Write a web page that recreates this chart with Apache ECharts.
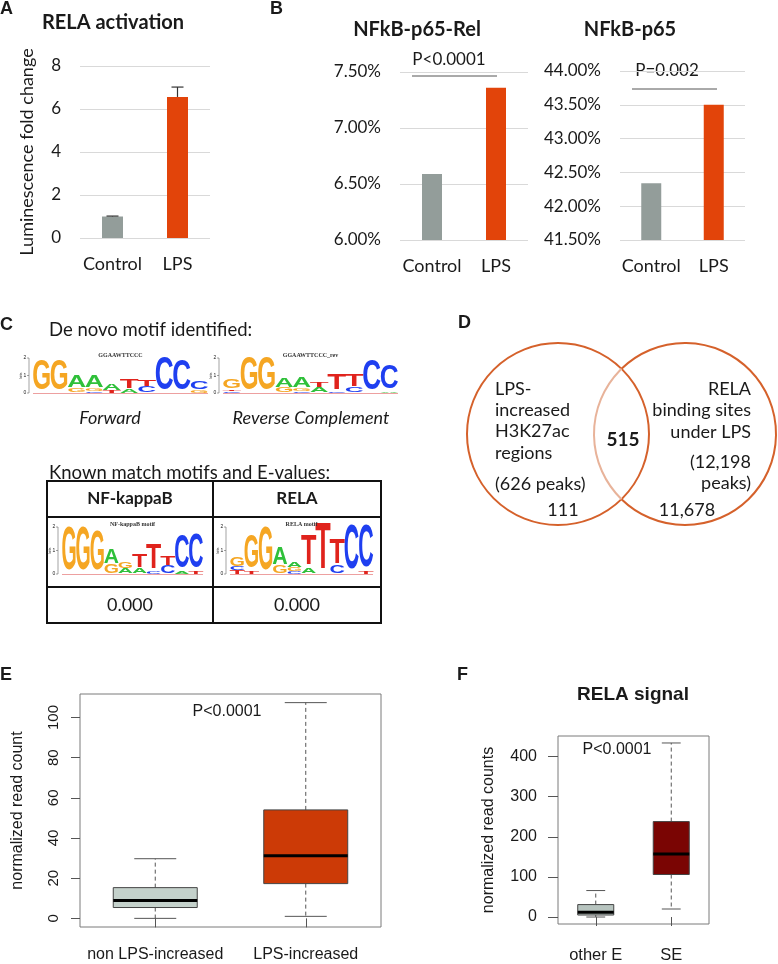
<!DOCTYPE html>
<html><head><meta charset="utf-8">
<script src="https://cdn.jsdelivr.net/npm/echarts@6/dist/echarts.min.js"></script>
<style>html,body{margin:0;padding:0;background:#fff}#c{width:778px;height:964px}</style>
</head><body><div id="c"></div>
<script>
// ---------------- data ----------------
const barCategories = ['Control', 'LPS'];
const relaActivation = [1.0, 6.56];
const relaActivationErrTop = [1.02, 7.02];
const p65RelPercent = [6.59, 7.36];
const p65Percent = [42.34, 43.50];
const boxCategoriesE = ['non LPS-increased', 'LPS-increased'];
const boxStatsE = [[0, 5.4, 8.9, 15.3, 29.7], [1.0, 17.3, 31.2, 54.0, 107.4]];
const yTicksE = [0, 20, 40, 60, 80, 100];
const boxCategoriesF = ['other E', 'SE'];
const boxStatsF = [[0, 5, 12, 31, 66], [20, 106, 157, 238, 434]];
const yTicksF = [0, 100, 200, 300, 400];
const vennCounts = [111, 515, 11678];
const vennTotals = [626, 12198];
const knownMotifs = ['NF-kappaB', 'RELA'];
const eValues = ['0.000', '0.000'];
// motif logos: columns, each a stack (bottom -> top) of [letter, bits]
const logoForward = [[['G',1.77]],[['G',1.77]],[['G',0.25],['A',0.65]],[['C',0.1],['G',0.15],['A',0.65]],[['T',0.15],['A',0.35]],[['A',0.2],['T',0.55]],[['C',0.35],['T',0.4]],[['C',1.95]],[['C',1.77]],[['G',0.15],['C',0.45]]];
const logoReverse = [[['C',0.1],['T',0.1],['G',0.5]],[['G',1.9]],[['G',1.9]],[['G',0.3],['A',0.55]],[['C',0.1],['G',0.15],['A',0.6]],[['A',0.3],['T',0.3]],[['C',0.1],['T',0.9]],[['C',0.3],['T',0.7]],[['C',1.75]],[['A',0.1],['C',1.35]]];
const logoNFkB = [[['G',1.87]],[['G',1.87]],[['G',1.75]],[['G',0.4],['A',0.65]],[['A',0.2],['G',0.3]],[['A',0.25],['T',0.55]],[['C',0.1],['T',1.1]],[['C',0.35],['T',0.4]],[['A',0.1],['C',1.45]],[['T',0.1],['C',1.5]]];
const logoRELA = [[['T',0.15],['C',0.15],['G',0.4]],[['T',0.1],['G',1.45]],[['G',1.9]],[['G',0.35],['A',0.75]],[['C',0.1],['G',0.15],['A',0.25]],[['A',0.25],['T',1.3]],[['T',2.0]],[['C',0.35],['T',1.1]],[['C',1.95]],[['T',0.1],['C',1.85]]];

// ---------------- styles ----------------
const CAL = 'Lato, "Open Sans", sans-serif';
const ARI = '"Liberation Sans", Arial, sans-serif';
const TXT = '#1a1a1a';
const barColors = ['#939d9a', '#e2440a'];
const boxFillsE = ['#c4d1cb', '#cc3a06'];
const boxFillsF = ['#b7c4bf', '#7a0503'];
const letterColor = {A:'#2fc03a', C:'#1f3ff0', G:'#f5a623', T:'#e0231c'};
const letterAdv = {A:0.722, C:0.722, G:0.778, T:0.611};

function T(x, y, s, font, opt) {
  const st = Object.assign({text: s, font: font, fill: TXT, align: 'left', verticalAlign: 'middle'}, opt || {});
  st.textAlign = st.align; st.textVerticalAlign = st.verticalAlign;
  return {type: 'text', x: x, y: y, silent: true, style: st};
}
function L(x1, y1, x2, y2, stroke, w) {
  return {type: 'line', silent: true, shape: {x1, y1, x2, y2}, style: {stroke: stroke, lineWidth: w}};
}
function logo(cols, x0, base, cw, ppb, title) {
  const out = [];
  cols.forEach((col, i) => {
    let cum = 0;
    const cx = x0 + (i + 0.5) * cw;
    col.forEach(([ch, bits]) => {
      const h = bits * ppb;
      out.push({type: 'text', silent: true, x: cx, y: base - cum - h / 2,
        scaleX: cw * 1.08 / (letterAdv[ch] * 100), scaleY: h / 73,
        style: {text: ch, font: 'bold 100px "Liberation Sans"', fill: letterColor[ch],
          align: 'center', verticalAlign: 'middle', textAlign: 'center', textVerticalAlign: 'middle'}});
      cum += h;
    });
  });
  const ax = x0 - 4;
  out.push(L(ax, base - 2 * ppb, ax, base, '#666', 0.6));
  out.push(L(ax - 2, base - 2 * ppb, ax, base - 2 * ppb, '#666', 0.6));
  out.push(L(ax - 2, base - ppb, ax, base - ppb, '#666', 0.6));
  out.push(L(ax - 2, base, ax, base, '#666', 0.6));
  out.push(L(x0, base + 0.5, x0 + cols.length * cw, base + 0.5, '#e06060', 0.6));
  out.push(T(ax - 4, base - 2 * ppb, '2', '5px ' + ARI, {align: 'center'}));
  out.push(T(ax - 4, base - ppb, '1', '5px ' + ARI, {align: 'center'}));
  out.push(T(ax - 4, base, '0', '5px ' + ARI, {align: 'center'}));
  out.push(Object.assign(T(ax - 8, base - ppb, 'bits', '4px ' + ARI, {align: 'center'}), {rotation: Math.PI / 2}));
  if (title) out.push(T(x0 + cols.length * cw / 2, base - 2 * ppb - 3, title, 'bold 6px "Liberation Serif"', {align: 'center', fill: '#333'}));
  return out;
}

const chart = echarts.init(document.getElementById('c'), null, {renderer: 'canvas'});

const yLab = (fmt) => ({fontFamily: CAL, fontSize: 17, color: TXT, margin: 19, formatter: fmt});
const xLab = {fontFamily: CAL, fontSize: 18, color: TXT, margin: 17, interval: 0};
const split = {show: true, lineStyle: {color: '#d9d9d9', width: 1}};
const pct = v => v.toFixed(2) + '%';

function barX(gi) {
  return {type: 'category', gridIndex: gi, data: barCategories, axisLine: {show: false}, axisTick: {show: false}, axisLabel: xLab};
}
function boxX(gi, cats, margin, fs) {
  return {type: 'category', gridIndex: gi, data: cats, axisLine: {show: false},
    axisTick: {show: true, alignWithLabel: true, interval: 0, length: 9, lineStyle: {color: '#555'}},
    axisLabel: {fontFamily: ARI, fontSize: fs, color: TXT, margin: margin, interval: 0}};
}
function boxSeries(gi, stats, fills, boxFrac, capFrac) {
  return {type: 'custom', xAxisIndex: gi, yAxisIndex: gi, data: stats.map((s, i) => [i].concat(s)),
    renderItem: (params, api) => {
      const i = api.value(0);
      const band = api.size([1, 0])[0];
      const x = api.coord([i, 0])[0];
      const y = k => api.coord([i, api.value(k)])[1];
      const ymin = y(1), yq1 = y(2), ymed = y(3), yq3 = y(4), ymax = y(5);
      const bw = band * boxFrac / 2, cw = band * capFrac / 2;
      const ws = {stroke: '#555', lineWidth: 1, lineDash: [4, 3]};
      return {type: 'group', children: [
        {type: 'line', shape: {x1: x, y1: yq3, x2: x, y2: ymax}, style: ws},
        {type: 'line', shape: {x1: x, y1: yq1, x2: x, y2: ymin}, style: ws},
        {type: 'line', shape: {x1: x - cw, y1: ymax, x2: x + cw, y2: ymax}, style: {stroke: '#555', lineWidth: 1}},
        {type: 'line', shape: {x1: x - cw, y1: ymin, x2: x + cw, y2: ymin}, style: {stroke: '#555', lineWidth: 1}},
        {type: 'rect', shape: {x: x - bw, y: yq3, width: 2 * bw, height: yq1 - yq3}, style: {fill: fills[params.dataIndex], stroke: '#444', lineWidth: 1}},
        {type: 'line', shape: {x1: x - bw, y1: ymed, x2: x + bw, y2: ymed}, style: {stroke: '#000', lineWidth: 3}}
      ]};
    }};
}

// ---------------- graphics ----------------
const g = [];
const bold18 = 'bold 18px ' + ARI;
g.push(T(0, 9, 'A', bold18), T(270, 9, 'B', bold18), T(0, 325, 'C', bold18), T(458, 323, 'D', bold18), T(0, 675, 'E', bold18), T(457, 675, 'F', bold18));
g.push(T(113, 23, 'RELA activation', 'bold 20px ' + CAL, {align: 'center'}));
g.push(T(417, 30, 'NFkB-p65-Rel', 'bold 20px ' + CAL, {align: 'center'}));
g.push(T(630, 30, 'NFkB-p65', 'bold 20px ' + CAL, {align: 'center'}));
g.push(T(449, 60, 'P<0.0001', '17px ' + CAL, {align: 'center'}), L(412, 76, 497, 76, '#555', 1));
g.push(T(667, 71, 'P=0.002', '17px ' + CAL, {align: 'center'}), L(632, 89, 717, 89, '#555', 1));
// panel C
g.push(T(49, 330, 'De novo motif identified:', '18.5px ' + CAL));
g.push.apply(g, logo(logoForward, 33, 393, 17.5, 17.5, 'GGAAWTTCCC'));
g.push.apply(g, logo(logoReverse, 223, 393, 17.5, 17.5, 'GGAAWTTCCC_rev'));
g.push(T(110, 418, 'Forward', 'italic 18px ' + CAL, {align: 'center'}));
g.push(T(311, 418, 'Reverse Complement', 'italic 18px ' + CAL, {align: 'center'}));
g.push(T(49, 473, 'Known match motifs and E-values:', '18.5px ' + CAL));
g.push({type: 'rect', silent: true, shape: {x: 47, y: 481, width: 334, height: 142}, style: {fill: 'none', stroke: '#111', lineWidth: 2}});
g.push(L(47, 517, 381, 517, '#111', 2), L(47, 587, 381, 587, '#111', 2), L(213, 481, 213, 623, '#111', 2));
g.push(T(130, 499, knownMotifs[0], 'bold 17px ' + CAL, {align: 'center'}), T(297, 499, knownMotifs[1], 'bold 17px ' + CAL, {align: 'center'}));
g.push(T(130, 605, eValues[0], '18px ' + CAL, {align: 'center'}), T(297, 605, eValues[1], '18px ' + CAL, {align: 'center'}));
g.push.apply(g, logo(logoNFkB, 62, 574, 14.1, 23.5, 'NF-kappaB motif'));
g.push.apply(g, logo(logoRELA, 230, 574, 14.3, 23.5, 'RELA motif'));
// panel D venn
const vc = '#d5612b';
g.push({type: 'circle', silent: true, shape: {cx: 558, cy: 434, r: 91}, style: {fill: 'none', stroke: vc, lineWidth: 2}});
const a0 = Math.PI - Math.acos(63.5 / 91);
g.push({type: 'arc', silent: true, shape: {cx: 685, cy: 434, r: 91, startAngle: 2 * Math.PI - a0, endAngle: 2 * Math.PI + a0, clockwise: true}, style: {fill: 'none', stroke: vc, lineWidth: 2}});
g.push({type: 'arc', silent: true, shape: {cx: 685, cy: 434, r: 91, startAngle: a0, endAngle: 2 * Math.PI - a0, clockwise: true}, style: {fill: 'none', stroke: '#e8b39a', lineWidth: 2}});
const v17 = '18px ' + CAL;
g.push(T(495, 389, 'LPS-', v17), T(495, 410, 'increased', v17), T(495, 431, 'H3K27ac', v17), T(495, 453, 'regions', v17),
  T(495, 484, '(' + vennTotals[0] + ' peaks)', v17), T(563, 510, String(vennCounts[0]), v17, {align: 'center'}));
g.push(T(751, 389, 'RELA', v17, {align: 'right'}), T(751, 410, 'binding sites', v17, {align: 'right'}), T(751, 432, 'under LPS', v17, {align: 'right'}),
  T(751, 462, '(' + vennTotals[1].toLocaleString('en-US'), v17, {align: 'right'}), T(751, 483, 'peaks)', v17, {align: 'right'}),
  T(687, 510, vennCounts[2].toLocaleString('en-US'), v17, {align: 'center'}));
g.push(T(623, 440, String(vennCounts[1]), 'bold 19px ' + CAL, {align: 'center'}));
// E, F annotations
g.push(T(227, 712, 'P<0.0001', '16px ' + ARI, {align: 'center'}));
g.push(T(633, 695, 'RELA signal', 'bold 19px ' + ARI, {align: 'center'}));
g.push(T(617, 750, 'P<0.0001', '16px ' + ARI, {align: 'center'}));

const option = {
  backgroundColor: '#fff',
  animation: false,
  grid: [
    {left: 80, top: 66, width: 130, height: 172},
    {left: 400, top: 72, width: 128, height: 168},
    {left: 620, top: 71, width: 125, height: 169},
    {left: 80, top: 694, width: 301, height: 233, show: true, borderColor: '#7a7a7a', borderWidth: 1},
    {left: 558, top: 736, width: 151, height: 191, show: true, borderColor: '#7a7a7a', borderWidth: 1}
  ],
  xAxis: [barX(0), barX(1), barX(2), boxX(3, boxCategoriesE, 20, 16), boxX(4, boxCategoriesF, 23, 16.5)],
  yAxis: [
    {type: 'value', gridIndex: 0, min: 0, max: 8, interval: 2, splitLine: split, axisLine: {show: false}, axisTick: {show: false}, axisLabel: yLab(),
      name: 'Luminescence fold change', nameLocation: 'middle', nameRotate: 90, nameGap: 44,
      nameTextStyle: {fontFamily: CAL, fontSize: 18, color: TXT}},
    {type: 'value', gridIndex: 1, min: 6, max: 7.5, interval: 0.5, splitLine: split, axisLine: {show: false}, axisTick: {show: false}, axisLabel: yLab(pct)},
    {type: 'value', gridIndex: 2, min: 41.5, max: 44, interval: 0.5, splitLine: split, axisLine: {show: false}, axisTick: {show: false}, axisLabel: yLab(pct)},
    {type: 'value', gridIndex: 3, min: -4.3, max: 111.7, splitLine: {show: false}, axisLine: {show: false},
      axisTick: {show: true, length: 9, customValues: yTicksE, lineStyle: {color: '#555'}},
      axisLabel: {customValues: yTicksE, rotate: 90, margin: 19, fontFamily: ARI, fontSize: 15, color: TXT},
      name: 'normalized read count', nameLocation: 'middle', nameRotate: 90, nameGap: 54,
      nameTextStyle: {fontFamily: ARI, fontSize: 16, color: TXT}},
    {type: 'value', gridIndex: 4, min: -17.4, max: 451.4, splitLine: {show: false}, axisLine: {show: false},
      axisTick: {show: true, length: 10, customValues: yTicksF, lineStyle: {color: '#555'}},
      axisLabel: {customValues: yTicksF, margin: 21, fontFamily: ARI, fontSize: 16, color: TXT},
      name: 'normalized read counts', nameLocation: 'middle', nameRotate: 90, nameGap: 61,
      nameTextStyle: {fontFamily: ARI, fontSize: 16, color: TXT}}
  ],
  series: [
    {type: 'bar', xAxisIndex: 0, yAxisIndex: 0, data: relaActivation, barWidth: 21, itemStyle: {color: p => barColors[p.dataIndex]}},
    {type: 'custom', xAxisIndex: 0, yAxisIndex: 0, z: 10, data: relaActivation.map((v, i) => [i, v, relaActivationErrTop[i]]),
      renderItem: (p, api) => {
        const a = api.coord([api.value(0), api.value(1)]), b = api.coord([api.value(0), api.value(2)]);
        return {type: 'group', children: [
          {type: 'line', shape: {x1: a[0], y1: a[1], x2: b[0], y2: b[1]}, style: {stroke: '#333', lineWidth: 1.2}},
          {type: 'line', shape: {x1: b[0] - 6, y1: b[1], x2: b[0] + 6, y2: b[1]}, style: {stroke: '#333', lineWidth: 1.2}}
        ]};
      }},
    {type: 'bar', xAxisIndex: 1, yAxisIndex: 1, data: p65RelPercent, barWidth: 20, itemStyle: {color: p => barColors[p.dataIndex]}},
    {type: 'bar', xAxisIndex: 2, yAxisIndex: 2, data: p65Percent, barWidth: 20, itemStyle: {color: p => barColors[p.dataIndex]}},
    boxSeries(3, boxStatsE, boxFillsE, 0.558, 0.279),
    boxSeries(4, boxStatsF, boxFillsF, 0.477, 0.25)
  ],
  graphic: {elements: g}
};
chart.setOption(option);
</script></body></html>
